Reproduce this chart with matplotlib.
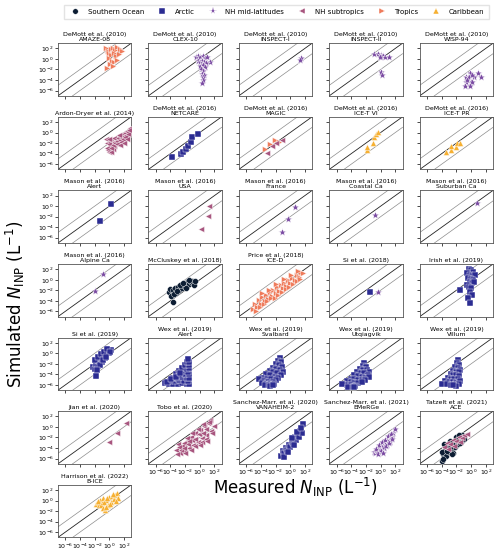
"""
comparaison INP simulees / mesurees par campagne
"""
import numpy as np
import matplotlib.pyplot as plt
from matplotlib.lines import Line2D

# regions (legende)
regions = ["Southern Ocean", "Arctic", "NH mid-latitudes", "NH subtropics", "Tropics", "Caribbean"]
region_colors = ["#0c1d33", "#2b2c92", "#7a4aa2", "#a8567f", "#ef7b5b", "#f6b032"]
region_markers = ["o", "s", "*", "<", ">", "^"]

# valeurs, en log10(L-1)
amaze_x = [-0.4, -0.2, 0.0, 0.3, 0.5, 0.8, 1.1, 1.4, 1.7, 0.2, 0.6, 0.9, 1.3, -0.1, 0.4, 0.7, 0.1, 0.5, 1.0, -0.3]
amaze_y = [2.1, 1.6, 1.2, 1.9, 2.0, 1.8, 2.2, 1.9, 1.6, 0.8, 1.1, 0.5, 1.0, 0.2, -0.3, -0.6, -1.0, -1.4, -0.2, -1.8]
clex_x = [-0.5, -0.2, 0.1, 0.4, 0.7, 1.0, 1.4, -0.3, 0.0, 0.3, 0.6, 0.9, 0.1, 0.4, 0.7, 0.2, 0.5, 0.3, 0.6, 0.4, 0.5, 0.3]
clex_y = [0.4, 0.5, 0.3, 0.5, 0.2, 0.3, -0.5, -0.4, -0.6, -0.3, -0.5, -0.8, -1.3, -1.1, -1.6, -2.0, -2.2, -2.8, -3.0, -3.5, -4.0, -4.5]
inspect1_x = [1.5, 1.4]
inspect1_y = [0.2, -0.2]
inspect2_x = [-0.9, -0.4, 0.0, 0.1, 0.3, 0.6, 1.1, -0.1, 0.0, 0.2]
inspect2_y = [1.0, 1.0, 0.8, 0.4, 0.5, 0.4, 0.4, 0.3, -2.4, -3.1]
wisp_x = [-0.2, 1.0, -0.7, -0.3, 0.4, 1.4, -0.7, 0.0, 0.2, -0.8, -0.2, -0.5, 0.1]
wisp_y = [-2.6, -2.6, -3.5, -3.5, -3.5, -3.4, -4.4, -4.4, -4.3, -5.1, -5.1, -4.0, -3.0]
ardon_x = [-0.4, -0.3, -0.1, 0.0, 0.2, 0.3, 0.5, 0.6, -0.2, 0.1, 0.4, 0.7, -0.3, 0.0, 0.3, 0.6, -0.1, 0.2, 0.5, 0.8,
           1.0, 1.2, 1.4, 1.5, 1.7, 1.8, 2.0, 2.1, 2.3, 2.4, 2.6, 2.8, 1.1, 1.3, 1.6, 1.9, 2.2, 2.5, 2.7, 1.5, 2.0, 2.4]
ardon_y = [-1.2, -2.0, -2.8, -3.7, -1.5, -2.4, -3.2, -1.0, -3.3, -1.8, -2.0, -2.6, -3.0, -2.2, -3.6, -1.7, -1.3, -2.9, -2.4, -1.9,
           -1.6, -1.0, -1.4, -0.6, -1.0, -0.3, -0.7, 0.0, -0.4, 0.3, 0.1, 0.9, -2.2, -0.5, -1.8, -1.3, -0.9, -0.2, 0.5, -2.4, -1.9, -1.2]
netcare_x = [-3.8, -2.5, -2.3, -1.9, -1.6, -1.2, -1.0, -0.3]
netcare_y = [-4.6, -4.1, -3.6, -3.1, -2.6, -1.8, -0.9, -0.2]
magic_trop_x = [-3.4, -2.8, -2.1, -1.5]
magic_trop_y = [-3.2, -2.1, -1.4, -1.7]
magic_sub_x = [-3.2, -2.5, -1.9, -1.1]
magic_sub_y = [-3.8, -2.5, -1.9, -1.5]
icetvi_x = [-1.9, -1.8, -1.1, -0.9, -0.6, -0.3]
icetvi_y = [-3.3, -2.8, -1.9, -0.8, -0.3, 0.1]
icetpr_x = [-3.4, -2.8, -2.7, -2.1, -1.9, -1.5]
icetpr_y = [-3.7, -3.3, -2.6, -2.8, -1.9, -2.0]
alert16_x = [0.2, -1.3]
alert16_y = [0.4, -2.8]
usa_x = [1.3, 1.2, 0.2]
usa_y = [0.0, -1.9, -4.3]
france_x = [0.7, -0.3, -1.1]
france_y = [-0.2, -2.5, -5.0]
coastal_x = [-0.7]
coastal_y = [-1.7]
suburban_x = [0.8]
suburban_y = [0.7]
alpine_x = [-0.8, -1.9]
alpine_y = [1.1, -2.1]
mccluskey_x = [-4.2, -4.0, -3.8, -3.6, -3.4, -3.2, -3.0, -2.8, -2.6, -2.4, -2.2, -2.0, -1.8, -1.6, -1.4, -1.2, -1.0, -0.8, -0.6,
               -3.9, -3.5, -3.1, -2.7, -2.3, -1.9, -1.5, -3.7]
mccluskey_y = [-2.4, -1.8, -2.9, -2.0, -1.6, -2.5, -1.3, -1.9, -0.9, -1.5, -1.1, -0.6, -1.2, -0.3, -0.8, -0.5, -0.2, -0.9, -0.3,
               -3.1, -2.7, -2.1, -1.0, -0.7, -1.6, -0.1, -4.2]
iced_x = [-5.1, -4.8, -4.5, -4.3, -4.0, -3.8, -3.5, -3.3, -3.0, -2.8, -2.5, -2.3, -2.0, -1.8, -1.5, -1.3, -1.0, -0.8, -0.5, -0.3,
          0.0, 0.3, 0.6, 0.9, 1.2, 1.5, 1.8, -4.6, -4.1, -3.6, -3.1, -2.6, -2.1, -1.6, -1.1, -0.6, -0.1, 0.4, 0.9, 1.4,
          -3.9, -2.9, -1.9, -0.9, 0.1, 1.1]
iced_y = [-5.6, -4.6, -5.2, -3.9, -4.6, -3.3, -4.1, -2.9, -3.6, -2.4, -3.0, -1.9, -2.6, -1.4, -2.1, -0.9, -1.6, -0.6, -1.1, -0.1,
          -0.6, 0.4, 0.0, 0.9, 0.6, 1.5, 1.2, -5.9, -5.1, -4.6, -4.0, -3.5, -3.4, -2.8, -2.3, -1.8, -1.3, -0.8, -0.3, 0.2,
          -2.6, -2.0, -0.8, 0.2, 0.9, 1.7]
si18_arc_x = [-1.5]
si18_arc_y = [-2.3]
si18_mid_x = [-0.4]
si18_mid_y = [-2.3]
irish_x = [-0.3, 0.0, 0.3, -0.5, -0.1, 0.2, 0.5, -0.4, 0.0, 0.3, -0.2, 0.1, 0.4, -0.6, -0.3, 0.0, -1.5, -0.2, 0.1, -0.4, -0.1]
irish_y = [2.1, 1.8, 1.5, 1.2, 1.0, 0.8, 0.9, 0.4, 0.2, 0.0, -0.4, -0.6, -0.5, -1.0, -1.3, -1.6, -2.0, -2.4, -2.8, -3.5, -4.4]
si19_x = [-2.2, -2.0, -1.8, -1.6, -1.4, -1.2, -1.0, -0.8, -0.6, -0.4, -0.2, 0.0, 0.2, -1.9, -1.5, -1.1, -0.7, -0.3, 0.1,
          -1.3, -0.9, -0.5, -1.7, -1.8]
si19_y = [-2.6, -3.0, -2.0, -2.4, -1.5, -1.0, -1.7, -0.6, -0.9, -0.2, 0.4, 0.0, 0.7, -1.2, -0.6, -0.2, 0.2, 0.8, 0.3,
          -2.2, -1.3, -0.6, -3.2, -4.3]
wexalert_x = [-4.8, -4.2, -3.6, -3.0, -2.4, -1.8, -1.4, -4.0, -3.4, -2.8, -2.2, -1.6, -3.6, -3.0, -2.4, -1.8, -1.4,
              -3.2, -2.6, -2.0, -1.5, -2.8, -2.2, -1.6, -2.4, -1.8, -1.4, -2.0, -1.5, -1.8, -1.4, -1.6, -4.5, -3.9, -3.3, -2.7]
wexalert_y = [-5.6, -5.9, -5.8, -5.9, -5.7, -5.9, -5.8, -5.2, -5.3, -5.1, -5.2, -5.3, -4.6, -4.7, -4.5, -4.6, -4.7,
              -4.0, -4.1, -3.9, -4.0, -3.4, -3.3, -3.5, -2.8, -2.9, -2.7, -2.2, -2.3, -1.6, -1.7, -1.0, -5.5, -4.9, -4.4, -3.8]
wexsval_x = [-1.4, -1.6, -1.2, -1.9, -1.5, -1.1, -2.3, -1.9, -1.4, -1.0, -2.8, -2.3, -1.8, -1.3, -3.3, -2.7, -2.1, -1.6,
             -3.8, -3.2, -2.6, -2.0, -4.2, -3.6, -3.0, -2.4, -3.9, -3.3, -2.7, -2.2, -3.4, -2.9, -2.8, -2.4]
wexsval_y = [-0.8, -1.4, -1.6, -2.1, -2.3, -2.5, -2.8, -3.0, -3.2, -3.6, -3.4, -3.6, -3.8, -4.1, -4.0, -4.2, -4.4, -4.6,
             -4.6, -4.8, -4.9, -5.1, -4.8, -5.3, -5.4, -5.5, -5.6, -5.8, -5.9, -5.8, -6.0, -6.1, -6.2, -6.0]
wexutq_x = [-2.2, -2.4, -2.0, -2.8, -2.4, -1.9, -1.6, -3.2, -2.7, -2.2, -1.7, -3.6, -3.1, -2.6, -2.1, -1.6,
            -4.1, -3.6, -3.1, -2.6, -2.1, -4.6, -4.1, -3.6, -3.1, -2.5, -5.1, -4.6, -4.0, -3.5, -5.3, -4.4, -3.8, -3.6]
wexutq_y = [-1.9, -2.4, -2.6, -3.0, -3.1, -3.2, -3.6, -3.6, -3.7, -3.8, -4.2, -4.2, -4.3, -4.4, -4.6, -4.5,
            -4.8, -4.9, -5.0, -5.1, -5.0, -5.3, -5.5, -5.6, -5.7, -5.5, -5.8, -6.0, -6.1, -6.2, -5.9, -6.3, -6.4, -6.3]
wexvil_x = [-1.8, -1.9, -1.6, -2.2, -1.8, -1.5, -2.5, -2.1, -1.7, -2.8, -2.4, -2.0, -1.6, -3.1, -2.7, -2.3, -1.8,
            -3.5, -3.0, -2.5, -2.0, -1.5, -3.9, -3.3, -2.8, -2.2, -1.7, -2.0, -2.4]
wexvil_y = [-1.3, -1.8, -2.2, -2.6, -2.8, -3.1, -3.3, -3.5, -3.6, -4.0, -4.1, -4.2, -4.3, -4.6, -4.8, -4.9, -4.8,
            -5.2, -5.4, -5.5, -5.6, -5.3, -5.9, -5.9, -6.0, -6.1, -5.9, -6.2, -6.0]
jian_x = [2.3, 1.0, 0.0]
jian_y = [0.75, -1.1, -2.8]
tobo_x = [-3.3, -3.0, -2.7, -2.4, -2.1, -1.8, -1.5, -1.2, -0.9, -0.6, -0.3, 0.0, 0.3, 0.6, 0.9, 1.2, 1.5, 1.9,
          -3.1, -2.6, -2.1, -1.6, -1.1, -0.6, -0.1, 0.4, 0.9, 1.4, -2.8, -2.2, -1.7, -1.2, -0.7, -0.2, 0.3, 0.8, 1.3,
          -2.0, -1.0, 0.0, 1.0, -1.4, 0.5, 1.7]
tobo_y = [-4.3, -3.2, -5.0, -3.6, -4.6, -2.6, -4.0, -1.9, -3.4, -1.2, -2.8, -0.6, -2.1, 0.1, -1.5, 0.7, -0.7, 0.2,
          -5.2, -4.3, -3.1, -3.3, -2.5, -2.2, -1.4, -1.1, -0.4, 1.4, -3.9, -4.0, -2.1, -4.3, -3.6, -0.4, -2.9, -2.3, 0.9,
          -5.0, -1.1, -3.4, -2.7, -2.6, 0.5, -1.1]
vanah_x = [-1.2, -1.0, -0.8, -0.6, -0.4, -0.2, 0.0, 0.2, 0.4, 0.6, 0.8, 1.0, 1.2, 1.4, 1.6, 1.8, -0.9, -0.3, 0.3, 0.9, 1.5, 0.5]
vanah_y = [-5.5, -4.6, -5.0, -4.0, -4.4, -3.4, -3.8, -2.7, -3.1, -2.0, -2.5, -1.5, -1.9, -0.8, -1.2, 0.5, -5.8, -4.8, -2.1, -0.9, -0.2, -3.5]
emerge_x = [-0.9, -0.7, -0.5, -0.3, -0.1, 0.1, 0.3, 0.5, 0.7, 0.9, 1.1, 1.3, 1.5, 1.7, 1.9, -0.6, -0.2, 0.2, 0.6, 1.0, 1.4,
            -0.4, 0.0, 0.4, 0.8, 1.2, 1.6, 0.3]
emerge_y = [-4.8, -5.0, -4.3, -4.7, -3.9, -4.4, -3.5, -4.0, -3.0, -3.4, -2.5, -2.9, -1.9, -1.1, -0.4, -4.1, -3.4, -2.9, -2.4, -1.8, -1.3,
            -5.1, -4.6, -4.0, -3.6, -3.1, -2.3, -5.0]
ace_so_x = [-4.0, -3.8, -3.6, -3.4, -3.2, -3.0, -2.8, -2.6, -2.4, -2.2, -2.0, -1.8, -1.6, -1.4, -1.2, -1.0,
            -3.9, -3.5, -3.1, -2.7, -2.3, -1.9, -1.5, -3.7, -3.3, -2.9, -2.5, -2.1, -3.8, -2.6, -1.7]
ace_so_y = [-6.5, -5.2, -4.3, -5.6, -3.7, -4.8, -3.2, -4.2, -2.9, -3.8, -2.4, -3.3, -2.0, -2.8, -1.6, -2.3,
            -4.8, -3.6, -3.5, -3.6, -2.9, -2.7, -3.0, -3.2, -4.5, -2.6, -4.9, -2.0, -6.0, -5.2, -1.5]
ace_sub_x = [-3.7, -3.3, -2.9, -2.5, -2.1, -1.7, -1.3, -0.9, -0.6, -3.1, -2.3, -1.5]
ace_sub_y = [-3.9, -3.0, -3.3, -2.5, -2.7, -2.0, -2.1, -1.6, -1.4, -4.2, -3.6, -2.9]
bice_x = [-1.8, -1.6, -1.4, -1.2, -1.0, -0.8, -0.6, -0.4, -0.2, 0.0, 0.2, 0.4, 0.6, 0.8, 1.0, 1.2,
          -1.5, -1.1, -0.7, -0.3, 0.1, 0.5, 0.9, -0.9, -0.5]
bice_y = [-0.6, -0.2, -0.9, 0.1, -0.5, 0.4, -1.7, 0.1, -0.9, 0.6, -0.2, 0.9, 0.3, 1.0, 1.4, 0.5,
          0.0, -0.9, -0.2, 0.5, -0.6, 1.2, -0.1, -1.4, -1.2]

# tableau des panneaux : titre, [(region, x, y), ...]
panels = [
    ("DeMott et al. (2010)\nAMAZE-08", [(4, amaze_x, amaze_y)]),
    ("DeMott et al. (2010)\nCLEX-10", [(2, clex_x, clex_y)]),
    ("DeMott et al. (2010)\nINSPECT-I", [(2, inspect1_x, inspect1_y)]),
    ("DeMott et al. (2010)\nINSPECT-II", [(2, inspect2_x, inspect2_y)]),
    ("DeMott et al. (2010)\nWISP-94", [(2, wisp_x, wisp_y)]),
    ("Ardon-Dryer et al. (2014)", [(3, ardon_x, ardon_y)]),
    ("DeMott et al. (2016)\nNETCARE", [(1, netcare_x, netcare_y)]),
    ("DeMott et al. (2016)\nMAGIC", [(4, magic_trop_x, magic_trop_y), (3, magic_sub_x, magic_sub_y)]),
    ("DeMott et al. (2016)\nICE-T VI", [(5, icetvi_x, icetvi_y)]),
    ("DeMott et al. (2016)\nICE-T PR", [(5, icetpr_x, icetpr_y)]),
    ("Mason et al. (2016)\nAlert", [(1, alert16_x, alert16_y)]),
    ("Mason et al. (2016)\nUSA", [(3, usa_x, usa_y)]),
    ("Mason et al. (2016)\nFrance", [(2, france_x, france_y)]),
    ("Mason et al. (2016)\nCoastal Ca", [(2, coastal_x, coastal_y)]),
    ("Mason et al. (2016)\nSuburban Ca", [(2, suburban_x, suburban_y)]),
    ("Mason et al. (2016)\nAlpine Ca", [(2, alpine_x, alpine_y)]),
    ("McCluskey et al. (2018)", [(0, mccluskey_x, mccluskey_y)]),
    ("Price et al. (2018)\nICE-D", [(4, iced_x, iced_y)]),
    ("Si et al. (2018)", [(1, si18_arc_x, si18_arc_y), (2, si18_mid_x, si18_mid_y)]),
    ("Irish et al. (2019)", [(1, irish_x, irish_y)]),
    ("Si et al. (2019)", [(1, si19_x, si19_y)]),
    ("Wex et al. (2019)\nAlert", [(1, wexalert_x, wexalert_y)]),
    ("Wex et al. (2019)\nSvalbard", [(1, wexsval_x, wexsval_y)]),
    ("Wex et al. (2019)\nUtqiagvik", [(1, wexutq_x, wexutq_y)]),
    ("Wex et al. (2019)\nVillum", [(1, wexvil_x, wexvil_y)]),
    ("Jian et al. (2020)", [(3, jian_x, jian_y)]),
    ("Tobo et al. (2020)", [(3, tobo_x, tobo_y)]),
    ("Sanchez-Marr. et al. (2020)\nVANAHEIM-2", [(1, vanah_x, vanah_y)]),
    ("Sanchez-Marr. et al. (2021)\nEMeRGe", [(2, emerge_x, emerge_y)]),
    ("Tatzelt et al. (2021)\nACE", [(0, ace_so_x, ace_so_y), (3, ace_sub_x, ace_sub_y)]),
    ("Harrison et al. (2022)\nB-ICE", [(5, bice_x, bice_y)]),
]

lims = np.array([1e-7, 1e3])
ticks = [1e-6, 1e-4, 1e-2, 1e0, 1e2]

fig, axes = plt.subplots(7, 5, figsize=(5, 5.54), dpi=100)
fig.subplots_adjust(left=0.116, right=0.986, top=0.922, bottom=0.03, wspace=0.235, hspace=0.40)
axes = axes.ravel()

for i, ax in enumerate(axes):
    if i >= len(panels):
        ax.remove()
        continue
    title, series = panels[i]
    ax.plot(lims, lims, color="#222222", lw=0.6, zorder=1)
    ax.plot(lims, lims * 100, color="#8c8c8c", lw=0.5, zorder=1)
    ax.plot(lims, lims / 100, color="#8c8c8c", lw=0.5, zorder=1)
    for reg, lx, ly in series:
        s = 34 if region_markers[reg] == "*" else 18
        ax.scatter(np.power(10.0, lx), np.power(10.0, ly), s=s, marker=region_markers[reg],
                   color=region_colors[reg], edgecolors="white", linewidths=0.3, zorder=3)
    ax.set_xscale("log")
    ax.set_yscale("log")
    ax.set_xlim(lims)
    ax.set_ylim(lims)
    ax.set_xticks(ticks)
    ax.set_yticks(ticks)
    ax.minorticks_off()
    ax.tick_params(labelsize=4.5, length=2, width=0.5, pad=1)
    for sp in ax.spines.values():
        sp.set_linewidth(0.6)
        sp.set_color("#555555")
    ax.set_title(title, fontsize=4.5, pad=1.5, linespacing=1.0)
    if i % 5 != 0:
        ax.set_yticklabels([])
    # labels x seulement sur le dernier panneau de chaque colonne
    if i + 5 < len(panels):
        ax.set_xticklabels([])

handles = [Line2D([], [], ls="none", marker=m, color=c, markersize=4 if m != "*" else 5.5,
                  markeredgecolor="white", markeredgewidth=0.3)
           for m, c in zip(region_markers, region_colors)]
fig.legend(handles, regions, loc="upper center", bbox_to_anchor=(0.553, 0.998), ncol=6, fontsize=5,
           frameon=True, edgecolor="#dddddd", fancybox=False, columnspacing=1.6, handletextpad=0.8,
           borderpad=0.6)

fig.text(0.03, 0.45, "Simulated $N_\\mathrm{INP}$ (L$^{-1}$)", rotation=90, fontsize=12, ha="center", va="center")
fig.text(0.59, 0.121, "Measured $N_\\mathrm{INP}$ (L$^{-1}$)", fontsize=12, ha="center", va="center")

plt.savefig("out.png", dpi=100)
